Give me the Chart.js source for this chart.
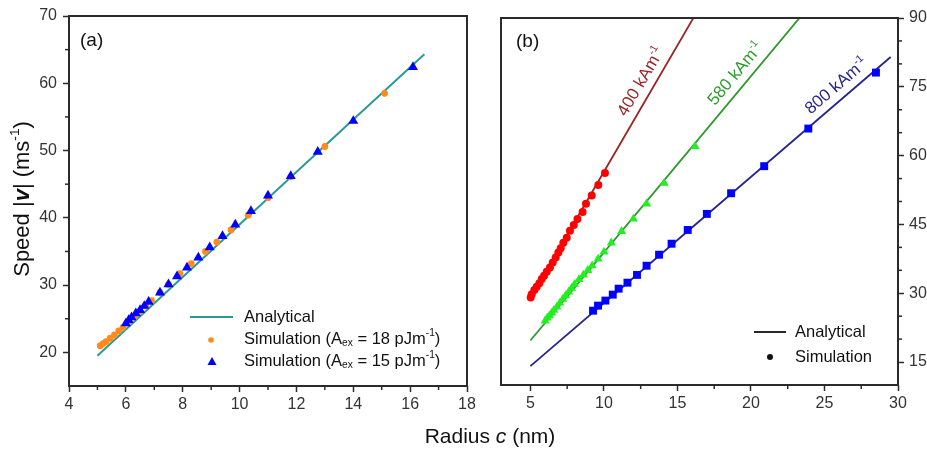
<!DOCTYPE html>
<html><head><meta charset="utf-8">
<script src="https://cdn.jsdelivr.net/npm/chart.js@4"></script>
<style>
html,body{margin:0;padding:0;background:#fff;width:927px;height:452px;overflow:hidden}
#wrap{position:relative;width:927px;height:452px}
canvas{position:absolute;left:0;top:0}
</style>
</head><body>
<div id="wrap">
<canvas id="ca" width="927" height="452"></canvas>
<canvas id="cb" width="927" height="452"></canvas>
</div>
<script>
// ---------- Panel (a) data ----------
const aLineX = [5.0, 8.0, 11.0, 14.0, 16.5];
const aLineY = [19.5, 31.2, 42.9, 54.6, 64.3];
const aSim18X = [5.1, 5.2, 5.3, 5.45, 5.6, 5.75, 5.9, 6.1, 6.3, 6.5, 6.7, 6.9, 7.2, 7.5, 7.9, 8.3, 8.8, 9.2, 9.7, 10.3, 11.0, 11.8, 13.0, 15.1];
const aSim18Y = [21.0, 21.3, 21.6, 22.1, 22.6, 23.2, 23.7, 24.5, 25.3, 26.1, 26.9, 27.7, 28.9, 30.1, 31.7, 33.2, 35.0, 36.4, 38.2, 40.4, 43.0, 46.1, 50.6, 58.5];
const aSim15X = [6.0, 6.1, 6.2, 6.35, 6.5, 6.65, 6.8, 7.2, 7.5, 7.8, 8.15, 8.55, 8.95, 9.4, 9.85, 10.4, 11.0, 11.8, 12.75, 14.0, 16.1];
const aSim15Y = [24.3, 24.8, 25.2, 25.8, 26.3, 26.9, 27.5, 28.9, 30.1, 31.3, 32.6, 34.1, 35.6, 37.3, 39.0, 41.0, 43.3, 46.2, 49.8, 54.4, 62.4];
const aXTicks = [4, 6, 8, 10, 12, 14, 16, 18];
const aXMinor = [5, 7, 9, 11, 13, 15, 17];
const aYTicks = [20, 30, 40, 50, 60, 70];
const aYMinor = [25, 35, 45, 55, 65];

// ---------- Panel (b) data ----------
const b400LineX = [5.0, 10.0, 16.5];
const b400LineY = [29.0, 56.5, 92.3];
const b580LineX = [5.0, 15.0, 24.0];
const b580LineY = [19.7, 58.1, 92.7];
const b800LineX = [5.0, 15.0, 29.5];
const b800LineY = [14.1, 41.6, 81.5];
const b400SimX = [5.02, 5.09, 5.27, 5.43, 5.61, 5.77, 5.93, 6.11, 6.33, 6.52, 6.72, 6.9, 7.06, 7.24, 7.47, 7.69, 7.95, 8.2, 8.55, 8.78, 9.17, 9.62, 10.07];
const b400SimY = [29.1, 29.8, 30.7, 31.4, 32.2, 33.1, 33.8, 34.7, 35.6, 36.7, 37.8, 38.9, 39.8, 41.0, 42.1, 43.6, 44.9, 46.2, 47.7, 49.5, 51.3, 53.6, 56.2];
const b580SimX = [6.0, 6.15, 6.3, 6.45, 6.6, 6.8, 7.0, 7.2, 7.4, 7.6, 7.8, 8.0, 8.3, 8.6, 8.9, 9.2, 9.6, 10.0, 10.5, 11.2, 12.0, 12.9, 14.1, 16.2];
const b580SimY = [24.0, 24.6, 25.1, 25.7, 26.3, 27.0, 27.9, 28.7, 29.5, 30.3, 31.1, 32.0, 33.0, 34.0, 35.0, 36.0, 37.5, 39.0, 41.0, 43.5, 46.2, 49.5, 54.0, 62.0];
const b800SimX = [9.26, 9.6, 10.1, 10.6, 11.0, 11.6, 12.25, 12.9, 13.75, 14.6, 15.7, 17.0, 18.65, 20.9, 23.9, 28.5];
const b800SimY = [26.2, 27.3, 28.4, 29.7, 31.0, 32.3, 34.0, 36.0, 38.4, 40.8, 43.8, 47.3, 51.8, 57.7, 65.9, 78.1];
const bXTicks = [5, 10, 15, 20, 25, 30];
const bXMinor = [7.5, 12.5, 17.5, 22.5, 27.5];
const bYTicks = [15, 30, 45, 60, 75, 90];
const bYMinor = [20, 25, 35, 40, 50, 55, 65, 70, 80, 85];
const bLabels = [
  {text: '400 kAm', line: 'b400', at: 13.3, color: '#9b2525'},
  {text: '580 kAm', line: 'b580', at: 19.65, color: '#2e9a2e'},
  {text: '800 kAm', line: 'b800', at: 26.4, color: '#26268f'}
];

// ---------- helpers ----------
const FONT = '"Liberation Sans", Arial, Helvetica, sans-serif';
const pts = (xs, ys) => xs.map((x, i) => ({x, y: ys[i]}));
function fontFor(st, size) {
  if (st === 'i') return `italic ${size}px ${FONT}`;
  if (st === 'bi') return `italic bold ${size}px ${FONT}`;
  if (st === 'sup' || st === 'sub') return `${(size * 0.62).toFixed(1)}px ${FONT}`;
  return `${size}px ${FONT}`;
}
function drawRich(ctx, parts, size, x, y, align, color) {
  ctx.save();
  ctx.fillStyle = color || '#111';
  ctx.textBaseline = 'middle';
  ctx.textAlign = 'left';
  let w = 0;
  parts.forEach(([t, st]) => { ctx.font = fontFor(st, size); w += ctx.measureText(t).width; });
  let cx = align === 'center' ? x - w / 2 : (align === 'right' ? x - w : x);
  parts.forEach(([t, st]) => {
    ctx.font = fontFor(st, size);
    let dy = 0;
    if (st === 'sup') dy = -size * 0.33;
    if (st === 'sub') dy = size * 0.25;
    ctx.fillText(t, cx, y + dy);
    cx += ctx.measureText(t).width;
  });
  ctx.restore();
}
function seg(ctx, x1, y1, x2, y2) { ctx.beginPath(); ctx.moveTo(x1, y1); ctx.lineTo(x2, y2); ctx.stroke(); }
function interp(xs, ys, x) {
  for (let i = 0; i < xs.length - 1; i++) {
    if (x >= xs[i] && x <= xs[i + 1]) return ys[i] + (ys[i + 1] - ys[i]) * (x - xs[i]) / (xs[i + 1] - xs[i]);
  }
  return ys[ys.length - 1];
}
function frameAndMinor(chart, xMinor, yMinor, ySide) {
  const {ctx, chartArea: ca, scales: {x, y}} = chart;
  ctx.save();
  ctx.strokeStyle = '#2b2b2b';
  ctx.lineWidth = 2;
  ctx.strokeRect(ca.left, ca.top, ca.right - ca.left, ca.bottom - ca.top);
  ctx.lineWidth = 1.5;
  xMinor.forEach(v => { const p = x.getPixelForValue(v); seg(ctx, p, ca.bottom, p, ca.bottom + 4); });
  yMinor.forEach(v => {
    const p = y.getPixelForValue(v);
    if (ySide === 'left') seg(ctx, ca.left - 4, p, ca.left, p);
    else seg(ctx, ca.right, p, ca.right + 4, p);
  });
  ctx.restore();
}
function tickOpts(ticks) {
  return {
    afterBuildTicks: s => { s.ticks = ticks.map(v => ({value: v})); },
    grid: {drawOnChartArea: false, drawTicks: true, tickLength: 6, tickColor: '#2b2b2b', tickWidth: 1.5},
    border: {display: false},
    ticks: {font: {family: FONT, size: 16}, color: '#333', maxRotation: 0, autoSkip: false}
  };
}

// ---------- Chart (a) ----------
const TEAL = '#2a9a97', ORANGE = '#ff8c1a', BLUE = '#0000ff';
const pluginA = {
  id: 'decorA',
  afterDraw(chart) {
    const ctx = chart.ctx;
    frameAndMinor(chart, aXMinor, aYMinor, 'left');
    drawRich(ctx, [['(a)', '']], 19, 80, 41, 'left', '#111');
    // legend
    ctx.save();
    ctx.strokeStyle = TEAL; ctx.lineWidth = 2;
    seg(ctx, 190, 317, 233, 317);
    ctx.fillStyle = ORANGE;
    ctx.beginPath(); ctx.arc(211, 340, 2.8, 0, Math.PI * 2); ctx.fill();
    ctx.fillStyle = BLUE;
    ctx.beginPath(); ctx.moveTo(212, 357); ctx.lineTo(216.5, 365); ctx.lineTo(207.5, 365); ctx.closePath(); ctx.fill();
    ctx.restore();
    drawRich(ctx, [['Analytical', '']], 16.5, 244, 317, 'left', '#111');
    drawRich(ctx, [['Simulation (A', ''], ['ex', 'sub'], [' = 18 pJm', ''], ['-1', 'sup'], [')', '']], 16.5, 244, 339, 'left', '#111');
    drawRich(ctx, [['Simulation (A', ''], ['ex', 'sub'], [' = 15 pJm', ''], ['-1', 'sup'], [')', '']], 16.5, 244, 361, 'left', '#111');
    // y title
    ctx.save();
    ctx.translate(23, 199);
    ctx.rotate(-Math.PI / 2);
    drawRich(ctx, [['Speed |', ''], ['v', 'bi'], ['| (ms', ''], ['-1', 'sup'], [')', '']], 22, 0, 0, 'center', '#111');
    ctx.restore();
    // shared x title
    drawRich(ctx, [['Radius ', ''], ['c', 'i'], [' (nm)', '']], 21, 490, 437, 'center', '#111');
  }
};
const xa = tickOpts(aXTicks);
xa.type = 'linear'; xa.min = 4; xa.max = 18;
xa.afterFit = s => { s.height = 452 - 386; };
xa.ticks.padding = 3;
const ya = tickOpts(aYTicks);
ya.type = 'linear'; ya.min = 15; ya.max = 70;
ya.afterFit = s => { s.width = 69; };
ya.ticks.padding = 6;

new Chart(document.getElementById('ca'), {
  type: 'scatter',
  data: {datasets: [
    {label: 'Analytical', data: pts(aLineX, aLineY), showLine: true, borderColor: TEAL, borderWidth: 2, pointRadius: 0, order: 3},
    {label: 'Simulation (Aex = 18 pJm-1)', data: pts(aSim18X, aSim18Y), backgroundColor: ORANGE, borderWidth: 0, pointRadius: 3.4, pointStyle: 'circle', order: 2},
    {label: 'Simulation (Aex = 15 pJm-1)', data: pts(aSim15X, aSim15Y), backgroundColor: BLUE, borderWidth: 0, pointRadius: 5.8, pointStyle: 'triangle', order: 1}
  ]},
  options: {
    responsive: false, animation: false, devicePixelRatio: 1,
    layout: {padding: {left: 0, top: 16, right: 927 - 467, bottom: 0}},
    plugins: {legend: {display: false}, tooltip: {enabled: false}},
    scales: {x: xa, y: ya}
  },
  plugins: [pluginA]
});

// ---------- Chart (b) ----------
const lines = {
  b400: [b400LineX, b400LineY],
  b580: [b580LineX, b580LineY],
  b800: [b800LineX, b800LineY]
};
const pluginB = {
  id: 'decorB',
  afterDraw(chart) {
    const ctx = chart.ctx;
    const {x, y} = chart.scales;
    frameAndMinor(chart, bXMinor, bYMinor, 'right');
    drawRich(ctx, [['(b)', '']], 19, 516, 42, 'left', '#111');
    // legend
    ctx.save();
    ctx.strokeStyle = '#111'; ctx.lineWidth = 1.8;
    seg(ctx, 754, 332, 786, 332);
    ctx.fillStyle = '#111';
    ctx.beginPath(); ctx.arc(770, 357, 3, 0, Math.PI * 2); ctx.fill();
    ctx.restore();
    drawRich(ctx, [['Analytical', '']], 16.5, 795, 332, 'left', '#111');
    drawRich(ctx, [['Simulation', '']], 16.5, 795, 357, 'left', '#111');
    // line labels
    bLabels.forEach(l => {
      const [xs, ys] = lines[l.line];
      const x0 = x.getPixelForValue(xs[0]), y0 = y.getPixelForValue(ys[0]);
      const x1 = x.getPixelForValue(xs[xs.length - 1]), y1 = y.getPixelForValue(ys[ys.length - 1]);
      const ang = Math.atan2(y1 - y0, x1 - x0);
      const px = x.getPixelForValue(l.at), py = y.getPixelForValue(interp(xs, ys, l.at));
      const off = 13;
      const nx = Math.sin(ang) * off, ny = -Math.cos(ang) * off;
      ctx.save();
      ctx.translate(px + nx, py + ny);
      ctx.rotate(ang);
      drawRich(ctx, [[l.text, ''], ['-1', 'sup']], 17, 0, 0, 'center', l.color);
      ctx.restore();
    });
  }
};
const xb = tickOpts(bXTicks);
xb.type = 'linear'; xb.min = 3; xb.max = 30;
xb.afterFit = s => { s.height = 452 - 385; };
xb.ticks.padding = 3;
const yb = tickOpts(bYTicks);
yb.type = 'linear'; yb.min = 10; yb.max = 90; yb.position = 'right';
yb.afterFit = s => { s.width = 927 - 898; };
yb.ticks.padding = 5;

new Chart(document.getElementById('cb'), {
  type: 'scatter',
  data: {datasets: [
    {label: '400 line', data: pts(b400LineX, b400LineY), showLine: true, borderColor: '#9b2525', borderWidth: 1.8, pointRadius: 0, order: 6},
    {label: '580 line', data: pts(b580LineX, b580LineY), showLine: true, borderColor: '#2e9a2e', borderWidth: 1.8, pointRadius: 0, order: 5},
    {label: '800 line', data: pts(b800LineX, b800LineY), showLine: true, borderColor: '#26268f', borderWidth: 1.8, pointRadius: 0, order: 4},
    {label: '400 sim', data: pts(b400SimX, b400SimY), backgroundColor: '#ff0000', borderWidth: 0, pointRadius: 4, pointStyle: 'circle', order: 3},
    {label: '580 sim', data: pts(b580SimX, b580SimY), backgroundColor: '#22ee22', borderWidth: 0, pointRadius: 5.2, pointStyle: 'triangle', order: 2},
    {label: '800 sim', data: pts(b800SimX, b800SimY), backgroundColor: '#0000ff', borderWidth: 0, pointRadius: 5.6, pointStyle: 'rect', order: 1}
  ]},
  options: {
    responsive: false, animation: false, devicePixelRatio: 1,
    layout: {padding: {left: 501, top: 18, right: 0, bottom: 0}},
    plugins: {legend: {display: false}, tooltip: {enabled: false}},
    scales: {x: xb, y: yb}
  },
  plugins: [pluginB]
});
</script>
</body></html>
